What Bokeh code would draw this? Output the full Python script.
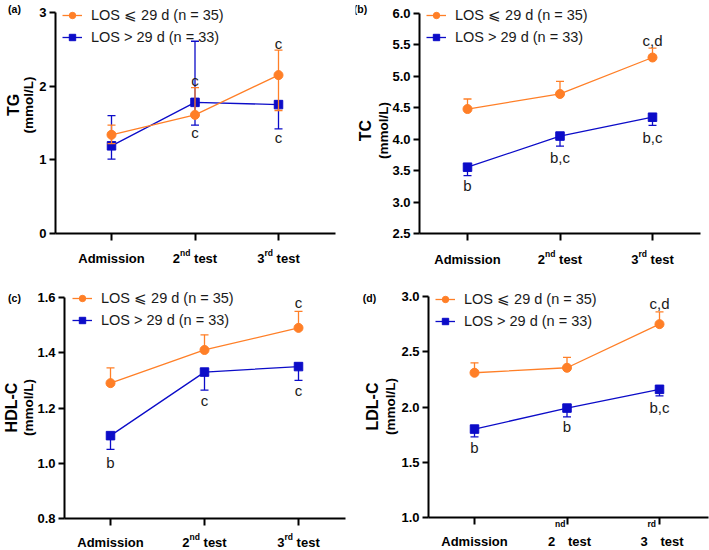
import math
from bokeh.plotting import figure
from bokeh.models import Range1d, FixedTicker, Label, Legend, LegendItem, ColumnDataSource
from bokeh.layouts import column, row
from bokeh.embed import file_html
from bokeh.resources import INLINE
from bokeh.core.properties import value

FONT = "Liberation Sans"
ORANGE = "#FF7F27"
BLUE = "#0C0CC8"
INK = "#1A1A1A"
TICK = 13
SUP = 8.5

# ---------------- data ----------------
x_idx = [0, 1, 2]
cat_main = ["Admission", "2", "3"]
cat_sup = ["", "nd", "rd"]
cat_rest = ["", "test", "test"]

legend_short = "LOS ⩽ 29 d (n = 35)"
legend_long = "LOS > 29 d (n = 33)"

# (a) TG
tg_ticks = [0, 1, 2, 3]
tg_tick_labels = ["0", "1", "2", "3"]
tg_short = [1.34, 1.61, 2.15]
tg_short_lo = [1.22, 1.61, 1.67]
tg_short_hi = [1.47, 1.98, 2.49]
tg_long = [1.19, 1.78, 1.75]
tg_long_lo = [1.01, 1.47, 1.42]
tg_long_hi = [1.60, 2.61, 1.75]
tg_notes = [("long", 1, "c", -22), ("short", 1, "c", 18), ("short", 2, "c", -32), ("long", 2, "c", 33)]

# (b) TC
tc_ticks = [2.5, 3.0, 3.5, 4.0, 4.5, 5.0, 5.5, 6.0]
tc_tick_labels = ["2.5", "3.0", "3.5", "4.0", "4.5", "5.0", "5.5", "6.0"]
tc_short = [4.48, 4.72, 5.30]
tc_short_lo = [4.48, 4.72, 5.30]
tc_short_hi = [4.64, 4.92, 5.45]
tc_long = [3.555, 4.05, 4.35]
tc_long_lo = [3.42, 3.89, 4.22]
tc_long_hi = [3.555, 4.05, 4.35]
tc_notes = [("long", 0, "b", 18), ("long", 1, "b,c", 21), ("long", 2, "b,c", 20), ("short", 2, "c,d", -17)]

# (c) HDL-C
hdl_ticks = [0.8, 1.0, 1.2, 1.4, 1.6]
hdl_tick_labels = ["0.8", "1.0", "1.2", "1.4", "1.6"]
hdl_short = [1.29, 1.41, 1.49]
hdl_short_lo = [1.29, 1.41, 1.49]
hdl_short_hi = [1.345, 1.465, 1.55]
hdl_long = [1.10, 1.33, 1.35]
hdl_long_lo = [1.05, 1.265, 1.30]
hdl_long_hi = [1.10, 1.33, 1.35]
hdl_notes = [("long", 0, "b", 27), ("long", 1, "c", 28), ("long", 2, "c", 24), ("short", 2, "c", -25)]

# (d) LDL-C
ldl_ticks = [1.0, 1.5, 2.0, 2.5, 3.0]
ldl_tick_labels = ["1.0", "1.5", "2.0", "2.5", "3.0"]
ldl_short = [2.31, 2.355, 2.75]
ldl_short_lo = [2.31, 2.355, 2.75]
ldl_short_hi = [2.40, 2.45, 2.86]
ldl_long = [1.80, 1.99, 2.16]
ldl_long_lo = [1.73, 1.91, 2.10]
ldl_long_hi = [1.80, 1.99, 2.16]
ldl_notes = [("long", 0, "b", 18), ("long", 1, "b", 18), ("long", 2, "b,c", 18), ("short", 2, "c,d", -21)]

# ---------------- helpers ----------------
BOLD_W = {'2': .556, '3': .556, 'n': .611, 'd': .611, 'r': .389, 't': .333,
          'e': .556, 's': .556, ' ': .278}


def tw(s, size):
    return sum(BOLD_W.get(ch, .556) for ch in s) * size


def series(p, xs, ys, lo, hi, color, marker):
    p.segment(x0=xs, y0=lo, x1=xs, y1=hi, line_color=color, line_width=1.3)
    cx, cy = [], []
    for x, y, l, h in zip(xs, ys, lo, hi):
        if h != y:
            cx.append(x); cy.append(h)
        if l != y:
            cx.append(x); cy.append(l)
    p.scatter(cx, cy, marker="dash", size=8, line_color=color, line_width=1.3)
    ln = p.line(xs, ys, line_color=color, line_width=1.3)
    sc = p.scatter(xs, ys, marker=marker, size=9 if marker == "circle" else 8.5,
                   fill_color=color, line_color=color)
    return ln, sc


def panel(cfg):
    ox, oy, w, h = cfg["canvas"]
    L, R, T, B = cfg["box"]
    c0, c2 = cfg["cats_px"]
    ya, yb = cfg["ticks"][0], cfg["ticks"][-1]
    sxu = (c2 - c0) / 2.0
    xa, xb = (L - c0) / sxu, (R - c0) / sxu
    x_start, x_end = (ox - c0) / sxu, (ox + w - c0) / sxu
    syu = (B - T) / (yb - ya)
    y_start = ya - (oy + h - B) / syu
    y_end = yb + (T - oy) / syu

    def SX(ix):
        return ix - ox

    def SY(iy):
        return oy + h - iy

    p = figure(width=w, height=h, min_border_left=0, min_border_right=0,
               min_border_top=0, min_border_bottom=0,
               x_range=Range1d(x_start, x_end), y_range=Range1d(y_start, y_end),
               output_backend="svg", toolbar_location=None, tools="")
    p.outline_line_color = None
    p.grid.visible = False
    p.background_fill_color = "white"
    p.border_fill_color = "white"
    for ax in (p.xaxis[0], p.yaxis[0]):
        ax.axis_line_width = 2
        ax.axis_line_color = "black"
        ax.major_tick_line_width = 2
        ax.major_tick_line_color = "black"
        ax.major_tick_in = 0
        ax.minor_tick_line_color = None
        ax.major_label_text_font = FONT
        ax.major_label_text_font_style = "bold"
        ax.major_label_text_color = "black"
    p.xaxis.fixed_location = ya
    p.xaxis.bounds = (xa, xb)
    p.xaxis.ticker = FixedTicker(ticks=x_idx)
    p.xaxis.major_tick_out = 7
    p.xaxis.major_label_overrides = {i: "" for i in x_idx}
    p.xaxis.major_label_text_font_size = "0px"
    p.yaxis.fixed_location = xa
    p.yaxis.bounds = (ya, yb)
    p.yaxis.ticker = FixedTicker(ticks=cfg["ticks"])
    p.yaxis.major_tick_out = 6
    p.yaxis.major_label_standoff = 3
    p.yaxis.major_label_text_font_size = f"{TICK}px"
    p.yaxis.major_label_overrides = {float(t): s for t, s in zip(cfg["ticks"], cfg["tick_labels"])}

    lb, sb = series(p, x_idx, cfg["long"], cfg["long_lo"], cfg["long_hi"], BLUE, "square")
    lo, so = series(p, x_idx, cfg["short"], cfg["short_lo"], cfg["short_hi"], ORANGE, "circle")

    # significance letters
    nx, ny, nt, no = [], [], [], []
    for s, i, t, off in cfg["notes"]:
        nx.append(i)
        ny.append(cfg["short"][i] if s == "short" else cfg["long"][i])
        nt.append(t)
        no.append(off)
    src = ColumnDataSource(dict(x=nx, y=ny, t=nt, o=no))
    p.text(x="x", y="y", text="t", y_offset="o", source=src, text_align="center",
           text_baseline="middle", text_font=value(FONT), text_font_size="15px",
           text_color=INK)

    # legend
    gcx, c1 = cfg["leg"]
    leg = Legend(items=[LegendItem(label=legend_short, renderers=[lo, so]),
                        LegendItem(label=legend_long, renderers=[lb, sb])],
                 location=(SX(gcx) - 10, SY(c1) - 30), orientation="vertical",
                 glyph_width=20, glyph_height=16, label_height=16, label_standoff=9,
                 spacing=6, padding=0, margin=0, border_line_color=None,
                 background_fill_alpha=0, label_text_font=FONT,
                 label_text_font_size="14.5px", label_text_color=INK)
    p.add_layout(leg)

    # category labels (with superscripts)
    base = SY(cfg["tick_center"] + 4.65)
    space = tw(" ", TICK)
    for i in x_idx:
        common = dict(x=i, x_units="data", y_units="screen", text_baseline="alphabetic",
                      text_font=FONT, text_font_style="bold", text_color="black")
        if not cat_sup[i]:
            p.add_layout(Label(y=base, text=cat_main[i], text_align="center",
                               text_font_size=f"{TICK}px", **common))
            continue
        wm, ws, wr = tw(cat_main[i], TICK), tw(cat_sup[i], SUP), tw(cat_rest[i], TICK)
        if cfg["detached"]:
            xm, xs_, xr = -19, -12, 1
            ys = SY(cfg["sup_detached_base"])
        else:
            start = -(wm + ws + space + wr) / 2
            xm, xs_, xr = start, start + wm, start + wm + ws + space
            ys = base + 5.5
        p.add_layout(Label(y=base, x_offset=xm, text=cat_main[i], text_align="left",
                           text_font_size=f"{TICK}px", **common))
        p.add_layout(Label(y=ys, x_offset=xs_, text=cat_sup[i], text_align="left",
                           text_font_size=f"{SUP}px", **common))
        p.add_layout(Label(y=base, x_offset=xr, text=cat_rest[i], text_align="left",
                           text_font_size=f"{TICK}px", **common))

    # y-axis title (two lines)
    t1x, t2x, ty = cfg["ytitle"]
    p.add_layout(Label(x=SX(t1x), y=SY(ty), x_units="screen", y_units="screen",
                       text=cfg["title"], angle=math.pi / 2, text_align="center",
                       text_baseline="middle", text_font=FONT, text_font_style="bold",
                       text_font_size="16px", text_color="black"))
    p.add_layout(Label(x=SX(t2x), y=SY(ty), x_units="screen", y_units="screen",
                       text="(mmol/L)", angle=math.pi / 2, text_align="center",
                       text_baseline="middle", text_font=FONT, text_font_style="bold",
                       text_font_size="13.5px", text_color="black"))
    lx, ly = cfg["letter_pos"]
    p.add_layout(Label(x=SX(lx), y=SY(ly), x_units="screen", y_units="screen",
                       text=cfg["letter"], text_align="center", text_baseline="middle",
                       text_font=FONT, text_font_style="bold", text_font_size="10.5px",
                       text_color="black"))
    return p


cfg_a = dict(canvas=(0, 0, 355, 278), box=(55, 335, 12, 233), cats_px=(111, 278),
             ticks=tg_ticks, tick_labels=tg_tick_labels,
             short=tg_short, short_lo=tg_short_lo, short_hi=tg_short_hi,
             long=tg_long, long_lo=tg_long_lo, long_hi=tg_long_hi, notes=tg_notes,
             leg=(72, 15), detached=False, tick_center=253, title="TG",
             ytitle=(13, 28, 104.5), letter="(a)", letter_pos=(14, 8))
cfg_b = dict(canvas=(355, 0, 354, 278), box=(419, 700, 13, 233), cats_px=(467, 652),
             ticks=tc_ticks, tick_labels=tc_tick_labels,
             short=tc_short, short_lo=tc_short_lo, short_hi=tc_short_hi,
             long=tc_long, long_lo=tc_long_lo, long_hi=tc_long_hi, notes=tc_notes,
             leg=(436, 15), detached=False, tick_center=254, title="TC",
             ytitle=(365, 383, 130), letter="(b)", letter_pos=(360, 8))
cfg_c = dict(canvas=(0, 278, 355, 272), box=(64, 345, 297, 518), cats_px=(110, 298),
             ticks=hdl_ticks, tick_labels=hdl_tick_labels,
             short=hdl_short, short_lo=hdl_short_lo, short_hi=hdl_short_hi,
             long=hdl_long, long_lo=hdl_long_lo, long_hi=hdl_long_hi, notes=hdl_notes,
             leg=(82, 298), detached=False, tick_center=537, title="HDL-C",
             ytitle=(11, 28, 407), letter="(c)", letter_pos=(14, 297))
cfg_d = dict(canvas=(355, 278, 354, 272), box=(428, 708, 296, 517), cats_px=(474, 659),
             ticks=ldl_ticks, tick_labels=ldl_tick_labels,
             short=ldl_short, short_lo=ldl_short_lo, short_hi=ldl_short_hi,
             long=ldl_long, long_lo=ldl_long_lo, long_hi=ldl_long_hi, notes=ldl_notes,
             leg=(445, 299), detached=True, sup_detached_base=523, tick_center=536,
             title="LDL-C", ytitle=(372, 390, 406), letter="(d)", letter_pos=(369, 297))

layout = column(row(panel(cfg_a), panel(cfg_b)), row(panel(cfg_c), panel(cfg_d)))

with open("out.html", "w") as f:
    f.write(file_html(layout, INLINE))
